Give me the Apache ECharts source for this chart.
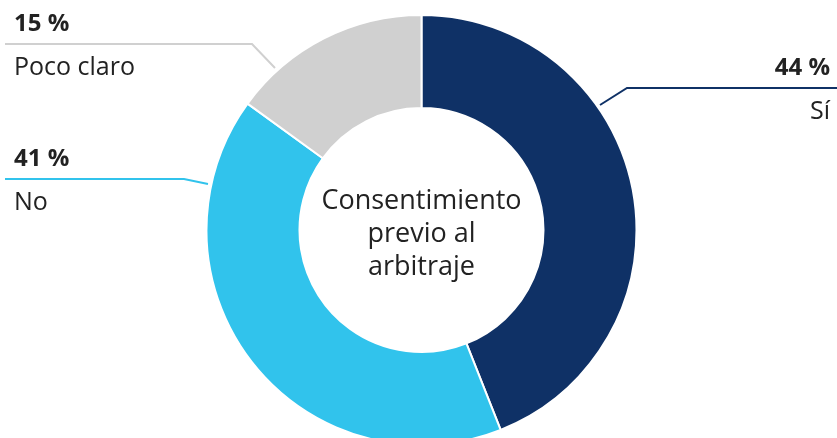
<!DOCTYPE html>
<html>
<head>
<meta charset="utf-8">
<script src="https://cdn.jsdelivr.net/npm/echarts@6/dist/echarts.min.js"></script>
<style>html,body{margin:0;padding:0;background:#fff}#c{width:837px;height:438px}</style>
</head>
<body>
<div id="c"></div>
<script>
const categories = ['Sí', 'No', 'Poco claro'];
const values = [44, 41, 15];
const colors = ['#0f3166', '#31c3ec', '#d0d0d0'];
const centerTitle = 'Consentimiento\nprevio al\narbitraje';

const FONT = 'Open Sans';
const chart = echarts.init(document.getElementById('c'), null, {renderer: 'canvas'});

// label placements (anchor x, middle y of the leader line, align, leader points)
const labelPlaces = [
  {x: 830, y: 90, align: 'right', pts: [[600, 105], [627, 88], [837, 88]]},
  {x: 14, y: 181, align: 'left', pts: [[208, 184], [184, 179], [5, 179]]},
  {x: 14, y: 46, align: 'left', pts: [[275, 68], [252, 44], [5, 44]]}
];

const data = categories.map((c, i) => ({
  name: c,
  value: values[i],
  itemStyle: {color: colors[i]},
  label: {align: labelPlaces[i].align},
  labelLine: {lineStyle: {color: colors[i], width: 2}}
}));

chart.setOption({
  animation: false,
  series: [{
    type: 'pie',
    center: [421.5, 230],
    radius: [122, 215],
    startAngle: 90,
    clockwise: true,
    itemStyle: {borderColor: '#fff', borderWidth: 2},
    label: {
      show: true,
      position: 'outside',
      formatter: p => '{p|' + p.value + ' %}\n{n|' + p.name + '}',
      rich: {
        p: {fontFamily: FONT, fontSize: 24, fontWeight: 'bold', color: '#222', lineHeight: 43},
        n: {fontFamily: FONT, fontSize: 25, color: '#222', lineHeight: 43}
      }
    },
    labelLine: {show: true, length: 10, length2: 10, smooth: false},
    labelLayout: function (params) {
      const L = labelPlaces[params.dataIndex];
      return {
        x: L.x,
        y: L.y,
        align: L.align,
        verticalAlign: 'middle',
        labelLinePoints: L.pts
      };
    },
    data: data
  }],
  graphic: [{
    type: 'text',
    x: 421.5,
    y: 234,
    style: {
      text: centerTitle,
      fontFamily: FONT,
      fontSize: 27,
      lineHeight: 33,
      fill: '#222',
      align: 'center',
      verticalAlign: 'middle'
    }
  }]
});
</script>
</body>
</html>
